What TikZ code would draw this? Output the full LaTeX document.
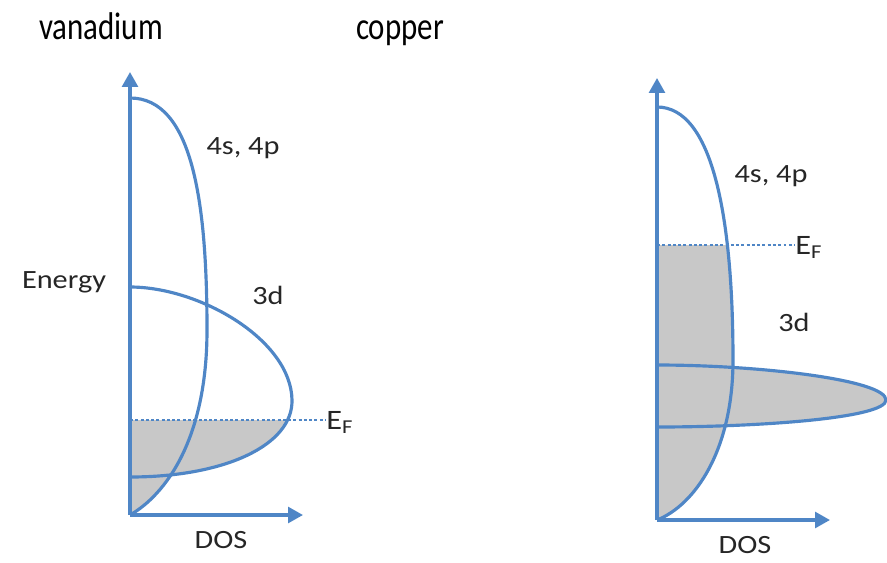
\documentclass[tikz,border=0pt]{standalone}
\usepackage{fontspec}
\setmainfont{Carlito}
\usetikzlibrary{arrows.meta}

\definecolor{bandblue}{RGB}{79,134,198}
\definecolor{occgray}{RGB}{200,200,200}

\newcommand{\wide}[1]{\scalebox{1.15}[1]{#1}}
\newcommand{\narrow}[1]{\scalebox{0.8}[1]{#1}}

\begin{document}
\begin{tikzpicture}[
    x=0.02cm, y=-0.02cm,
    >={Triangle[width=9pt,length=8.5pt]},
    axis/.style={->, draw=bandblue, line width=1.8pt},
    band/.style={draw=bandblue, line width=1.8pt},
    fermi/.style={draw=bandblue, line width=1.2pt, dash pattern=on 1.7pt off 1.3pt},
    occ/.style={fill=occgray},
    title/.style={font=\fontsize{22}{26}\selectfont, inner sep=0pt, anchor=base},
    lbl/.style={font=\fontsize{15}{18}\selectfont, inner sep=0pt, text=black!85},
    eflbl/.style={lbl, font=\fontsize{16}{19}\selectfont, anchor=base west}
]
\useasboundingbox (0,0) rectangle (887,562);

% =========================================================
% 1) VANADIUM
% =========================================================
\node[title] (vtitle) at (101,39) {\narrow{vanadium}};

\coordinate (vO) at (130,515);
\coordinate (vTop) at (130,72);
\coordinate (vRight) at (303,515);
\coordinate (vEFl) at (130,420);

% filled states below E_F
\begin{scope}
  \clip (vEFl) rectangle (340,516);
  \fill[occ] (130,98) .. controls (192,98) and (207,200) .. (207,330)
    .. controls (207,440) and (165,495) .. (vO) -- cycle;
  \fill[occ] (130,287) .. controls (200,287) and (291,340) .. (292,400)
    .. controls (293,445) and (225,477) .. (130,477) -- cycle;
\end{scope}

\node[eflbl] (vEF) at (326,429) {\wide{E\textsubscript{F}}};
\draw[fermi] (vEFl) -- (vEFl -| vEF.west);

% 4s, 4p and 3d bands
\draw[band] (130,98) .. controls (192,98) and (207,200) .. (207,330)
  .. controls (207,440) and (165,495) .. (vO);
\draw[band] (130,287) .. controls (200,287) and (291,340) .. (292,400)
  .. controls (293,445) and (225,477) .. (130,477);

\draw[axis] (vO) -- (vTop);
\draw[axis] (vO) -- (vRight);

\node[lbl] (v4s) at (243,148) {\wide{4s, 4p}};
\node[lbl] (v3d) at (268,295) {\wide{3d}};
\node[lbl] (energy) at (64,282) {\wide{Energy}};
\node[lbl] (vdos) at (221,540) {\wide{DOS}};

% =========================================================
% 2) COPPER
% =========================================================
\node[title] (ctitle) at (400,39) {\narrow{copper}};

\coordinate (cO) at (657,520);
\coordinate (cTop) at (657,78);
\coordinate (cRight) at (830,520);
\coordinate (cEFl) at (657,245);

% filled states below E_F
\begin{scope}
  \clip (cEFl) rectangle (890,521);
  \fill[occ] (657,107) .. controls (712,107) and (733,215) .. (733,360)
    .. controls (733,450) and (695,505) .. (cO) -- cycle;
  \fill[occ] (657,365) .. controls (760,365) and (886,380) .. (886,400)
    .. controls (886,418) and (760,427) .. (657,427) -- cycle;
\end{scope}

\node[eflbl] (cEF) at (795,254) {\wide{E\textsubscript{F}}};
\draw[fermi] (cEFl) -- (cEFl -| cEF.west);

% 4s, 4p and 3d bands
\draw[band] (657,107) .. controls (712,107) and (733,215) .. (733,360)
  .. controls (733,450) and (695,505) .. (cO);
\draw[band] (657,365) .. controls (760,365) and (886,380) .. (886,400)
  .. controls (886,418) and (760,427) .. (657,427);

\draw[axis] (cO) -- (cTop);
\draw[axis] (cO) -- (cRight);

\node[lbl] (c4s) at (771,176) {\wide{4s, 4p}};
\node[lbl] (c3d) at (794,322) {\wide{3d}};
\node[lbl] (cdos) at (745,545) {\wide{DOS}};

\end{tikzpicture}
\end{document}
